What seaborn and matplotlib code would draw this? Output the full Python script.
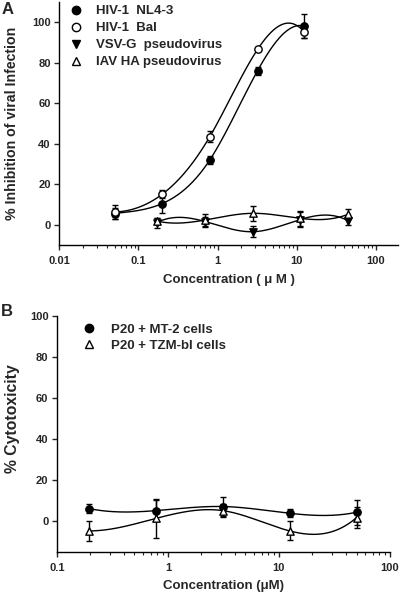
import numpy as np
import matplotlib
matplotlib.use("Agg")
import matplotlib.pyplot as plt
import seaborn as sns
from matplotlib.lines import Line2D
from matplotlib.ticker import FixedLocator, LogLocator, NullFormatter

# Panel A: inhibition of viral infection
conc_hiv = [0.05, 0.2, 0.8, 3.2, 12.5]
nl43 = [5.5, 10.4, 32, 76, 98]
nl43_err = [2.5, 4.5, 2, 2, 6]
bal = [6.2, 15, 43.5, 86.5, 95]
bal_err = [3.5, 2, 2.5, 1, 3]

conc_pseudo = [0.17, 0.7, 2.8, 11, 45]
vsvg = [1, 1.5, -3.5, 2.5, 1.8]
vsvg_err = [2.5, 2.5, 2.7, 3.5, 2]
iav = [1.8, 2.3, 5.6, 3.1, 5.2]
iav_err = [1.5, 3, 3.7, 3.7, 2.5]

# Panel B: cytotoxicity
conc_cyto = [0.195, 0.78, 3.125, 12.5, 50]
mt2 = [6.0, 5.0, 7.0, 3.7, 4.2]
mt2_err = [2.2, 5, 4.7, 2, 6]
tzm = [-4.9, 1.2, 5.0, -4.9, 1.6]
tzm_err = [4.9, 9.5, 3.3, 4.6, 5]

xticks_a = [0.01, 0.1, 1, 10, 100]
xticks_b = [0.1, 1, 10, 100]


def spline_curve(x, y, n=300):
    """ not-a-knot cubic spline in log10(x) (smooth curve through points) """
    lx = np.log10(np.asarray(x, float))
    y = np.asarray(y, float)
    k = len(lx)
    h = np.diff(lx)
    A = np.zeros((k, k))
    b = np.zeros(k)
    # not-a-knot ends
    A[0, 0], A[0, 1], A[0, 2] = h[1], -(h[0] + h[1]), h[0]
    A[-1, -3], A[-1, -2], A[-1, -1] = h[-1], -(h[-2] + h[-1]), h[-2]
    for i in range(1, k - 1):
        A[i, i - 1] = h[i - 1]
        A[i, i] = 2 * (h[i - 1] + h[i])
        A[i, i + 1] = h[i]
        b[i] = 6 * ((y[i + 1] - y[i]) / h[i] - (y[i] - y[i - 1]) / h[i - 1])
    M = np.linalg.solve(A, b)
    xs = np.linspace(lx[0], lx[-1], n)
    idx = np.clip(np.searchsorted(lx, xs) - 1, 0, k - 2)
    x0, x1 = lx[idx], lx[idx + 1]
    hh = x1 - x0
    t0, t1 = x1 - xs, xs - x0
    ys = (M[idx] * t0 ** 3 + M[idx + 1] * t1 ** 3) / (6 * hh) \
        + (y[idx] / hh - M[idx] * hh / 6) * t0 \
        + (y[idx + 1] / hh - M[idx + 1] * hh / 6) * t1
    return 10 ** xs, ys


sns.set_style("ticks")
plt.rcParams['font.family'] = ['Liberation Sans', 'DejaVu Sans']
plt.rcParams['font.weight'] = 'bold'
plt.rcParams['axes.labelweight'] = 'bold'

fig = plt.figure(figsize=(4, 5.93), dpi=100)
axA = fig.add_axes([0.148, 0.587, 0.847, 0.41])
axB = fig.add_axes([0.142, 0.0697, 0.833, 0.398])


def draw_series(ax, x, y, err, marker, face):
    cx, cy = spline_curve(x, y)
    sns.lineplot(x=cx, y=cy, ax=ax, color='black', lw=1.0, sort=False, zorder=2)
    ax.errorbar(x, y, yerr=err, fmt='none', ecolor='black', elinewidth=1.0,
                capsize=2.5, capthick=1.0, zorder=3)
    sns.scatterplot(x=x, y=y, ax=ax, marker=marker, s=28, color=face,
                    edgecolor='black', linewidth=1.0, zorder=4)


draw_series(axA, conc_hiv, nl43, nl43_err, 'o', 'black')
draw_series(axA, conc_hiv, bal, bal_err, 'o', 'white')
draw_series(axA, conc_pseudo, vsvg, vsvg_err, 'v', 'black')
draw_series(axA, conc_pseudo, iav, iav_err, '^', 'white')

draw_series(axB, conc_cyto, mt2, mt2_err, 'o', 'black')
draw_series(axB, conc_cyto, tzm, tzm_err, '^', 'white')

for ax, xt, xlim, ylim in [(axA, xticks_a, (0.01, 190), (-10, 110)),
                           (axB, xticks_b, (0.1, 100), (-15, 100))]:
    ax.set_xscale('log')
    ax.set_xlim(*xlim)
    ax.set_ylim(*ylim)
    ax.xaxis.set_major_locator(FixedLocator(xt))
    ax.set_xticklabels(['%g' % v for v in xt])
    ax.xaxis.set_minor_locator(LogLocator(base=10, subs=np.arange(2, 10)))
    ax.xaxis.set_minor_formatter(NullFormatter())
    ax.set_yticks(np.arange(0, 101, 20))
    ax.tick_params(axis='x', which='major', length=3.5, width=1, labelsize=8, pad=4.5)
    ax.tick_params(axis='y', which='major', length=3.5, width=1, labelsize=8, pad=2.5)
    ax.tick_params(axis='x', which='minor', length=2, width=0.8)
    for s in ('left', 'bottom'):
        ax.spines[s].set_linewidth(1.0)
        ax.spines[s].set_color('black')
    sns.despine(ax=ax)
    for lab in ax.get_xticklabels() + ax.get_yticklabels():
        lab.set_fontweight('bold')

axA.set_xlabel('Concentration ( \u03bc M )', fontsize=9.5, labelpad=5.5)
axA.set_ylabel('% Inhibition of viral Infection', fontsize=10.2)
axA.yaxis.set_label_coords(-0.119, 0.5)
axB.set_xlabel('Concentration (\u03bcM)', fontsize=9.5, labelpad=5.5)
axB.set_ylabel('% Cytotoxicity', fontsize=11.3)
axB.yaxis.set_label_coords(-0.110, 0.562)


def handle(marker, face):
    return Line2D([], [], ls='none', marker=marker, markersize=6,
                  markerfacecolor=face, markeredgecolor='black', markeredgewidth=1.0)


axA.legend([handle('o', 'black'), handle('o', 'white'), handle('v', 'black'), handle('^', 'white')],
           ['HIV-1  NL4-3', 'HIV-1  Bal', 'VSV-G  pseudovirus', 'IAV HA pseudovirus'],
           loc='upper left', bbox_to_anchor=(0.015, 1.008), frameon=False,
           prop={'weight': 'bold', 'size': 9.5}, handlelength=1.0,
           handletextpad=1.0, labelspacing=0.36, borderaxespad=0)
axB.legend([handle('o', 'black'), handle('^', 'white')],
           ['P20 + MT-2 cells', 'P20 + TZM-bl cells'],
           loc='upper left', bbox_to_anchor=(0.061, 0.99), frameon=False,
           prop={'weight': 'bold', 'size': 9.5}, handlelength=1.0,
           handletextpad=1.2, labelspacing=0.3, borderaxespad=0)

fig.text(0.003, 0.997, 'A', fontsize=12, fontweight='bold', va='top')
fig.text(0.003, 0.488, 'B', fontsize=12, fontweight='bold', va='top')

fig.savefig('out.png', dpi=100)
